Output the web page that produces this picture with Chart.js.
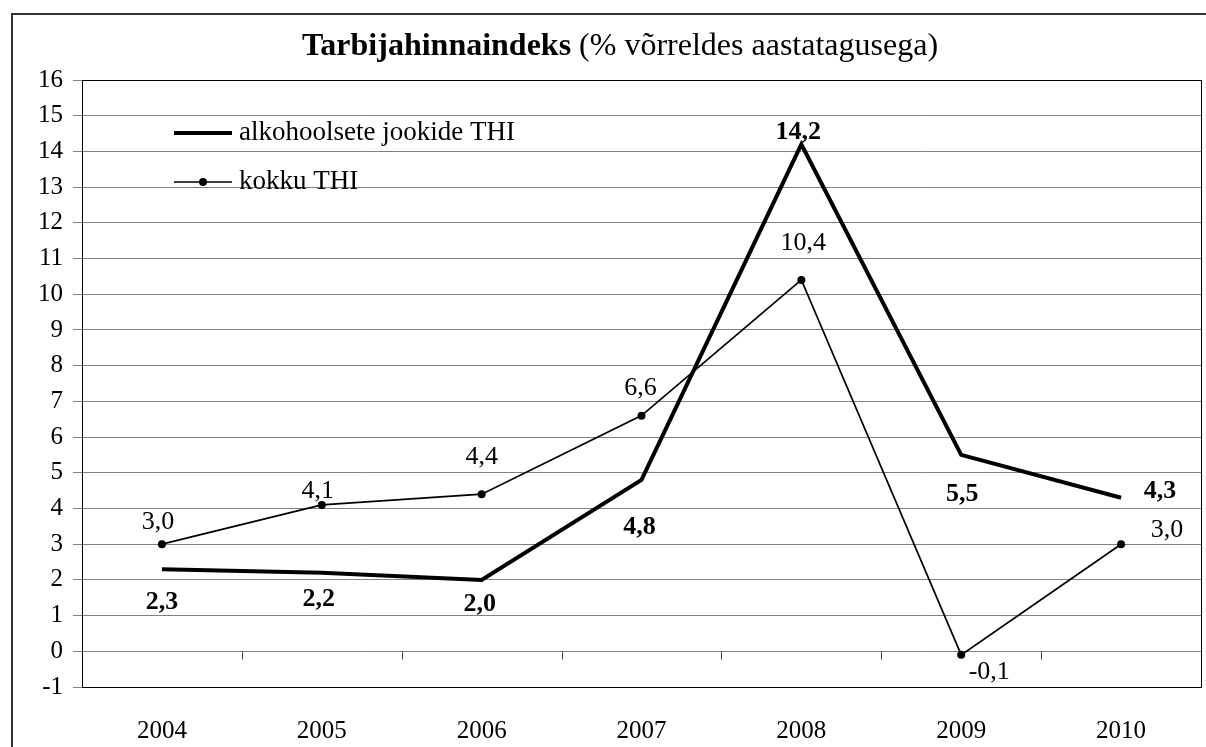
<!DOCTYPE html>
<html>
<head>
<meta charset="utf-8">
<script src="https://cdn.jsdelivr.net/npm/chart.js@4.4.1/dist/chart.umd.min.js"></script>
<style>
    body { margin: 0; background: #fff; }
    #wrap { width: 1206px; height: 747px; }
</style>
</head>
<body>
<div id="wrap"><canvas id="thiChart" width="1206" height="747"></canvas></div>
<script>
//----------------------------- Data -----------------------------------
const years = ['2004', '2005', '2006', '2007', '2008', '2009', '2010'];
const alcoholThi = [2.3, 2.2, 2.0, 4.8, 14.2, 5.5, 4.3];
const totalThi = [3.0, 4.1, 4.4, 6.6, 10.4, -0.1, 3.0];
const yMin = -1;
const yMax = 16;
const yStep = 1;
const titleBold = 'Tarbijahinnaindeks';
const titleRest = ' (% võrreldes aastatagusega)';
const seriesNames = ['alkohoolsete jookide THI', 'kokku THI'];

// where each value label sits relative to its point (dx, dy in px)
const alcoholLabelShift = [[0, 33], [-3, 27], [-2, 24], [-2, 47], [-3, -12], [1, 39], [39, -6]];
const totalLabelShift = [[-4, -22], [-4, -14], [0, -37], [-1, -27], [2, -37], [28, 17], [46, -14]];

const serif = "'Liberation Serif', 'Times New Roman', serif";
Chart.defaults.font.family = serif;
Chart.defaults.color = '#000';

function fmt(v) {
    return v.toFixed(1).replace('.', ',');
}

//----------------------------- Plugins -----------------------------------
const framePlugin = {
    id: 'frame',
    beforeDraw(chart) {
        const ctx = chart.ctx;
        ctx.save();
        ctx.fillStyle = '#fff';
        ctx.fillRect(0, 0, chart.width, chart.height);
        ctx.strokeStyle = '#333';
        ctx.lineWidth = 2;
        ctx.strokeRect(12, 14, chart.width + 100, chart.height + 100);
        ctx.restore();
    },
    beforeDatasetsDraw(chart) {
        // small category ticks sitting on the zero line
        const ctx = chart.ctx;
        const x = chart.scales.x;
        const y0 = Math.round(chart.scales.y.getPixelForValue(0)) + 0.5;
        ctx.save();
        ctx.strokeStyle = '#444';
        ctx.lineWidth = 1;
        ctx.beginPath();
        for (let i = 1; i < years.length; i++) {
            const bx = Math.round((x.getPixelForValue(i - 1) + x.getPixelForValue(i)) / 2) + 0.5;
            ctx.moveTo(bx, y0);
            ctx.lineTo(bx, y0 + 8);
        }
        ctx.stroke();
        ctx.restore();
    },
    afterDraw(chart) {
        const ctx = chart.ctx;
        const a = chart.chartArea;
        ctx.save();
        ctx.strokeStyle = '#000';
        ctx.lineWidth = 1;
        ctx.strokeRect(Math.round(a.left) + 0.5, Math.round(a.top) + 0.5, Math.round(a.right - a.left), Math.round(a.bottom - a.top));

        // title, bold part + normal part
        ctx.textBaseline = 'middle';
        ctx.fillStyle = '#000';
        ctx.font = 'bold 32px ' + serif;
        const wb = ctx.measureText(titleBold).width;
        ctx.font = '32px ' + serif;
        const wr = ctx.measureText(titleRest).width;
        const startX = 620 - (wb + wr) / 2;
        ctx.font = 'bold 32px ' + serif;
        ctx.textAlign = 'left';
        ctx.fillText(titleBold, startX, 47);
        ctx.font = '32px ' + serif;
        ctx.fillText(titleRest, startX + wb, 47);

        // legend inside the plot
        const rows = [133, 182];
        chart.data.datasets.forEach((ds, i) => {
            const ly = rows[i];
            ctx.strokeStyle = ds.borderColor;
            ctx.lineWidth = ds.borderWidth;
            ctx.beginPath();
            ctx.moveTo(174, ly);
            ctx.lineTo(232, ly);
            ctx.stroke();
            if (ds.pointRadius > 0) {
                ctx.beginPath();
                ctx.arc(203, ly, ds.pointRadius, 0, Math.PI * 2);
                ctx.fillStyle = ds.pointBackgroundColor;
                ctx.fill();
            }
            ctx.fillStyle = '#000';
            ctx.font = '27px ' + serif;
            ctx.textAlign = 'left';
            ctx.fillText(ds.label, 239, ly);
        });
        ctx.restore();
    },
    afterDatasetsDraw(chart) {
        const ctx = chart.ctx;
        ctx.save();
        ctx.textAlign = 'center';
        ctx.textBaseline = 'middle';
        ctx.fillStyle = '#000';
        chart.data.datasets.forEach((ds, i) => {
            const meta = chart.getDatasetMeta(i);
            ctx.font = (ds.labelBold ? 'bold ' : '') + '26px ' + serif;
            meta.data.forEach((pt, j) => {
                const s = ds.labelShift[j];
                ctx.fillText(fmt(ds.data[j]), pt.x + s[0], pt.y + s[1]);
            });
        });
        ctx.restore();
    }
};

//----------------------------- Chart -----------------------------------
const ctx = document.getElementById('thiChart');
const config = {
    type: 'line',
    data: {
        labels: years,
        datasets: [
            {
                label: seriesNames[0],
                data: alcoholThi,
                borderColor: '#000',
                borderWidth: 4,
                pointRadius: 0,
                tension: 0,
                labelBold: true,
                labelShift: alcoholLabelShift
            },
            {
                label: seriesNames[1],
                data: totalThi,
                borderColor: '#000',
                borderWidth: 1.7,
                pointRadius: 4,
                pointBackgroundColor: '#000',
                pointBorderWidth: 0,
                tension: 0,
                labelBold: false,
                labelShift: totalLabelShift
            }
        ]
    },
    options: {
        responsive: false,
        animation: false,
        layout: {
            padding: { top: 80, right: 5, left: 0, bottom: 0 }
        },
        plugins: {
            legend: { display: false },
            title: { display: false },
            tooltip: { enabled: false }
        },
        scales: {
            x: {
                offset: true,
                grid: { display: false },
                border: { display: false },
                ticks: {
                    color: '#000',
                    font: { size: 25 },
                    padding: 21,
                    maxRotation: 0
                },
                afterFit(scale) { scale.height = 60; }
            },
            y: {
                min: yMin,
                max: yMax,
                ticks: {
                    stepSize: yStep,
                    color: '#000',
                    font: { size: 25 },
                    padding: 10
                },
                grid: {
                    color: '#808080',
                    lineWidth: 1,
                    tickLength: 9
                },
                border: { color: '#000' },
                afterFit(scale) { scale.width = 82; }
            }
        }
    },
    plugins: [framePlugin]
};
window.thiChartInstance = new Chart(ctx, config);
</script>
</body>
</html>
